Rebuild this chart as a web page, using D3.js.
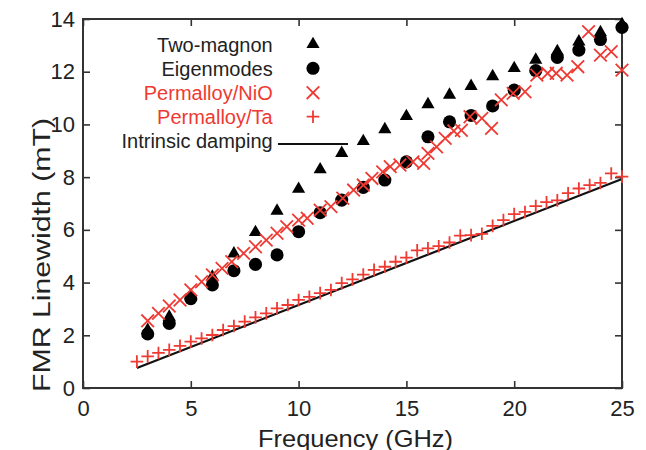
<!DOCTYPE html>
<html>
<head>
<meta charset="utf-8">
<script src="https://cdn.jsdelivr.net/npm/d3@7/dist/d3.min.js"></script>
<style>
  html, body { margin: 0; padding: 0; background: #fff; }
  svg { display: block; font-family: "Liberation Sans", Arial, sans-serif; }
</style>
</head>
<body>
<svg id="chart" width="646" height="450"></svg>
<script>
// ---- data ----
const freqInt = [3,4,5,6,7,8,9,10,11,12,13,14,15,16,17,18,19,20,21,22,23,24,25];
const twoMagnon = [2.2,2.7,3.5,4.22,5.1,5.91,6.72,7.55,8.29,8.91,9.36,9.81,10.31,10.76,11.12,11.45,11.82,12.13,12.45,12.77,13.14,13.49,13.8];
const eigenmodes = [2.05,2.45,3.39,3.91,4.45,4.69,5.05,5.93,6.65,7.13,7.61,7.89,8.58,9.53,10.1,10.34,10.7,11.3,12.04,12.54,12.82,13.22,13.68];

const nioFreq = [3.0,3.5,4.0,4.5,5.0,5.5,6.0,6.45,6.9,7.45,8.0,8.5,9.0,9.45,10.0,10.4,11.0,11.5,12.05,12.55,13.0,13.4,13.9,14.25,14.7,15.3,15.8,16.0,16.4,16.8,17.2,17.55,17.95,18.5,18.95,19.4,19.95,20.5,21.05,21.55,21.95,22.45,22.95,23.45,24.0,24.5,25.0];
const nioWidth = [2.55,2.83,3.11,3.34,3.72,4.03,4.29,4.54,4.79,5.11,5.36,5.61,5.87,6.12,6.37,6.44,6.75,6.88,7.2,7.51,7.7,7.95,8.2,8.4,8.46,8.58,8.52,8.9,9.15,9.47,9.75,9.78,10.29,10.23,9.85,10.93,11.18,11.24,11.87,11.94,11.94,11.87,12.19,13.52,12.63,12.76,12.06];

const taFreq = [2.5,3,3.5,4,4.5,5,5.5,6,6.5,7,7.5,8,8.5,9,9.5,10,10.5,11,11.5,12,12.5,13,13.5,14,14.5,15,15.5,16,16.5,17,17.5,18,18.5,19,19.5,20,20.5,21,21.5,22,22.5,23,23.5,24,24.5,25];
const taWidth = [1.0,1.2,1.33,1.45,1.6,1.76,1.88,2.01,2.2,2.35,2.52,2.68,2.83,3.02,3.15,3.34,3.46,3.6,3.72,3.98,4.12,4.3,4.48,4.6,4.79,4.95,5.22,5.3,5.38,5.52,5.78,5.8,5.85,6.15,6.37,6.6,6.68,6.9,7.05,7.12,7.39,7.57,7.7,7.78,8.14,8.02];

const dampingFreq = [2.5, 25];
const dampingWidth = [0.76, 7.93];

const xTicks = [0,5,10,15,20,25];
const yTicks = [0,2,4,6,8,10,12,14];

const legendLabels = ["Two-magnon","Eigenmodes","Permalloy/NiO","Permalloy/Ta","Intrinsic damping"];

// ---- drawing ----
const RED = "#ee3a32";
const INK = "#222";
const svg = d3.select("#chart");
const x = d3.scaleLinear().domain([0,25]).range([83,622]);
const y = d3.scaleLinear().domain([0,14]).range([388,19]);

// axes (inward ticks on all sides)
const gB = svg.append("g").attr("transform", `translate(0,${y(0)})`)
  .call(d3.axisBottom(x).tickValues(xTicks).tickSize(-7).tickSizeOuter(0).tickPadding(12).tickFormat(d3.format("d")));
const gL = svg.append("g").attr("transform", `translate(${x(0)},0)`)
  .call(d3.axisLeft(y).tickValues(yTicks).tickSize(-7).tickSizeOuter(0).tickPadding(8).tickFormat(d3.format("d")));
const gT = svg.append("g").attr("transform", `translate(0,${y(14)})`)
  .call(d3.axisTop(x).tickValues(xTicks).tickSize(-7).tickSizeOuter(0).tickFormat(""));
const gR = svg.append("g").attr("transform", `translate(${x(25)},0)`)
  .call(d3.axisRight(y).tickValues(yTicks).tickSize(-7).tickSizeOuter(0).tickFormat(""));
[gB,gL,gT,gR].forEach(g => {
  g.select(".domain").remove();
  g.selectAll(".tick line").attr("stroke", "#333").attr("stroke-width", 1.6);
  g.selectAll(".tick text").attr("fill", INK).style("font-size", "22px")
    .style("font-family", "'Liberation Sans', Arial, sans-serif");
});
svg.append("rect").attr("x", x(0)).attr("y", y(14))
  .attr("width", x(25)-x(0)).attr("height", y(0)-y(14))
  .attr("fill", "none").attr("stroke", "#333").attr("stroke-width", 2);

// axis titles
svg.append("text").attr("x", 355.5).attr("y", 446.5).attr("text-anchor", "middle")
  .attr("fill", INK).style("font-size", "24px")
  .attr("textLength", 195).attr("lengthAdjust", "spacingAndGlyphs")
  .text("Frequency (GHz)");
svg.append("text").attr("transform", "translate(49.5,255) rotate(-90)").attr("text-anchor", "middle")
  .attr("fill", INK).style("font-size", "23px")
  .attr("textLength", 274).attr("lengthAdjust", "spacingAndGlyphs")
  .text("FMR Linewidth (mT)");

// intrinsic damping line
const line = d3.line().x(d => x(d[0])).y(d => y(d[1]));
svg.append("path").datum(d3.zip(dampingFreq, dampingWidth))
  .attr("d", line).attr("fill", "none").attr("stroke", "#111").attr("stroke-width", 2.2);

// marker helpers
const tri = d3.symbol().type(d3.symbolTriangle).size(75);
const circ = d3.symbol().type(d3.symbolCircle).size(135);
const H = 6.3;
const crossPath = `M${-H},${-H}L${H},${H}M${-H},${H}L${H},${-H}`;
const plusPath = `M${-H},0L${H},0M0,${-H}L0,${H}`;

// Permalloy/Ta
svg.append("g").selectAll("path").data(d3.zip(taFreq, taWidth)).join("path")
  .attr("transform", d => `translate(${x(d[0])},${y(d[1])})`)
  .attr("d", plusPath).attr("stroke", RED).attr("stroke-width", 1.8).attr("fill", "none");

// Two-magnon
svg.append("g").selectAll("path").data(d3.zip(freqInt, twoMagnon)).join("path")
  .attr("transform", d => `translate(${x(d[0])},${y(d[1])})`)
  .attr("d", tri).attr("fill", "#000");

// Eigenmodes
svg.append("g").selectAll("path").data(d3.zip(freqInt, eigenmodes)).join("path")
  .attr("transform", d => `translate(${x(d[0])},${y(d[1])})`)
  .attr("d", circ).attr("fill", "#000");

// Permalloy/NiO
svg.append("g").selectAll("path").data(d3.zip(nioFreq, nioWidth)).join("path")
  .attr("transform", d => `translate(${x(d[0])},${y(d[1])})`)
  .attr("d", crossPath).attr("stroke", RED).attr("stroke-width", 1.8).attr("fill", "none");

// legend
const legY = [44.3, 68.3, 92.7, 116.7, 141];
const legColors = [INK, INK, RED, RED, INK];
const legX = 272.7, mX = 313;
legendLabels.forEach((lab, i) => {
  svg.append("text").attr("x", legX).attr("y", legY[i] + 7.2).attr("text-anchor", "end")
    .attr("fill", legColors[i]).style("font-size", "20px").text(lab);
});
svg.append("path").attr("transform", `translate(${mX},${legY[0]})`).attr("d", tri).attr("fill", "#000");
svg.append("path").attr("transform", `translate(${mX},${legY[1]})`).attr("d", circ).attr("fill", "#000");
svg.append("path").attr("transform", `translate(${mX},${legY[2]})`).attr("d", crossPath)
  .attr("stroke", RED).attr("stroke-width", 1.8).attr("fill", "none");
svg.append("path").attr("transform", `translate(${mX},${legY[3]})`).attr("d", plusPath)
  .attr("stroke", RED).attr("stroke-width", 1.8).attr("fill", "none");
svg.append("line").attr("x1", 278).attr("x2", 348).attr("y1", legY[4] + 3).attr("y2", legY[4] + 3)
  .attr("stroke", "#111").attr("stroke-width", 2.2);
</script>
</body>
</html>
